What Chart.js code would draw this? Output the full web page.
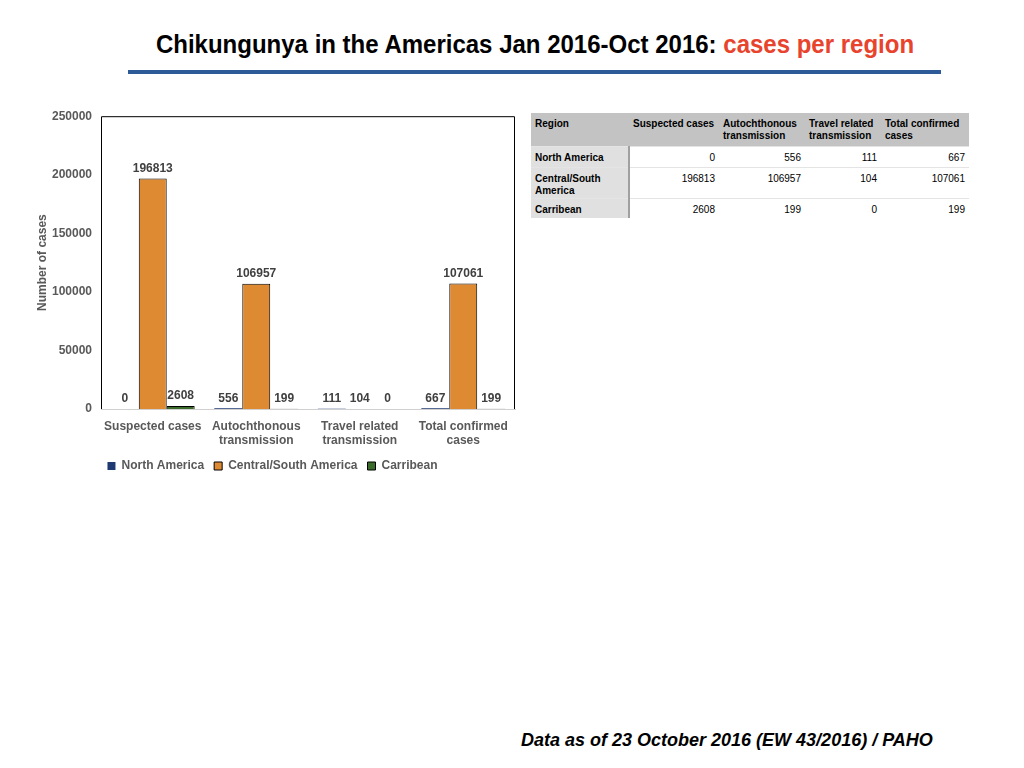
<!DOCTYPE html>
<html>
<head>
<meta charset="utf-8">
<script src="https://cdn.jsdelivr.net/npm/chart.js@4.4.0/dist/chart.umd.min.js"></script>
<style>
  html,body{margin:0;padding:0;background:#fff;}
  body{width:1024px;height:768px;position:relative;overflow:hidden;font-family:"Liberation Sans",Arial,sans-serif;}
  #title{position:absolute;left:0;width:1070px;top:30px;text-align:center;font-family:"Liberation Sans",Arial,sans-serif;font-weight:bold;font-size:24px;color:#000;transform:scaleY(1.08);}
  #title span{color:#e8432d;}
  #rule{position:absolute;left:128px;top:70px;width:813px;height:4px;background:#2d5b97;}
  #wrap{position:absolute;left:30px;top:100px;width:500px;height:382px;}
  #tbl{position:absolute;left:531px;top:113px;border-collapse:collapse;font-size:10px;color:#000;}
  #tbl td,#tbl th{padding:5px 4px 0 4px;vertical-align:top;box-sizing:border-box;}
  #tbl th{background:#c3c3c3;text-align:left;font-weight:bold;line-height:12px;height:33px;}
  #tbl td{border-top:1px solid #e4e4e4;text-align:right;line-height:12px;}
  #tbl td.r{background:#e0e0e0;text-align:left;font-weight:bold;border-right:2px solid #a0a0a0;}
  #footer{position:absolute;left:521px;top:730px;font-weight:bold;font-style:italic;font-size:18px;color:#000;}
</style>
</head>
<body>
<div id="title">Chikungunya in the Americas Jan 2016-Oct 2016: <span>cases per region</span></div>
<div id="rule"></div>
<div id="wrap"><canvas id="c" width="500" height="382"></canvas></div>
<table id="tbl"></table>
<div id="footer">Data as of 23 October 2016 (EW 43/2016) / PAHO</div>
<script>
const categories = [["Suspected cases"], ["Autochthonous","transmission"], ["Travel related","transmission"], ["Total confirmed","cases"]];
const tableHeaders = ["Region","Suspected cases","Autochthonous transmission","Travel related transmission","Total confirmed cases"];
const seriesNames = ["North America","Central/South America","Carribean"];
const northAmerica = [0, 556, 111, 667];
const centralSouthAmerica = [196813, 106957, 104, 107061];
const carribean = [2608, 199, 0, 199];
const yTicks = [0, 50000, 100000, 150000, 200000, 250000];

// Table
const tbl = document.getElementById('tbl');
const colW = [98, 90, 86, 76, 88];
const rowH = [21, 31, 20];
let html = '<tr>' + tableHeaders.map((h,i)=>`<th style="width:${colW[i]}px">${h}</th>`).join('') + '</tr>';
const rows = [northAmerica, centralSouthAmerica, carribean];
rows.forEach((r,ri)=>{
  html += `<tr style="height:${rowH[ri]}px"><td class="r">${seriesNames[ri]}</td>` + r.map(v=>`<td>${v}</td>`).join('') + '</tr>';
});
tbl.innerHTML = html;

const labelPlugin = {
  id: 'valueLabels',
  afterDatasetsDraw(chart) {
    const ctx = chart.ctx;
    ctx.save();
    ctx.font = 'bold 12px "Liberation Sans", Arial, sans-serif';
    ctx.fillStyle = '#404040';
    ctx.textAlign = 'center';
    ctx.textBaseline = 'bottom';
    chart.data.datasets.forEach((ds, di) => {
      const meta = chart.getDatasetMeta(di);
      meta.data.forEach((bar, i) => {
        ctx.fillText(String(ds.data[i]), bar.x, bar.y - 4);
      });
    });
    ctx.restore();
  }
};
const framePlugin = {
  id: 'frame',
  afterDraw(chart) {
    const a = chart.chartArea, ctx = chart.ctx;
    ctx.save();
    ctx.strokeStyle = '#000';
    ctx.lineWidth = 1;
    ctx.beginPath();
    ctx.moveTo(a.left + 0.5, a.bottom);
    ctx.lineTo(a.left + 0.5, a.top + 0.5);
    ctx.lineTo(a.right - 0.5, a.top + 0.5);
    ctx.lineTo(a.right - 0.5, a.bottom);
    ctx.stroke();
    ctx.restore();
  }
};

const tickFont = {family: '"Liberation Sans", Arial, sans-serif', weight: 'bold', size: 12};
new Chart(document.getElementById('c'), {
  type: 'bar',
  data: {
    labels: categories,
    datasets: [
      {label: seriesNames[0], data: northAmerica, backgroundColor: '#1f3a73', borderWidth: 0},
      {label: seriesNames[1], data: centralSouthAmerica, backgroundColor: '#de8a33', borderColor: '#000', borderWidth: 1},
      {label: seriesNames[2], data: carribean, backgroundColor: '#3b6b2b', borderColor: '#000', borderWidth: 1}
    ]
  },
  options: {
    responsive: false,
    animation: false,
    devicePixelRatio: 1,
    layout: {padding: {top: 2, right: 15, left: 0, bottom: 0}},
    datasets: {bar: {categoryPercentage: 0.81, barPercentage: 1.0}},
    plugins: {
      legend: {
        position: 'bottom',
        labels: {boxWidth: 8, boxHeight: 8, color: '#595959', font: tickFont, padding: 10}
      },
      tooltip: {enabled: false}
    },
    scales: {
      x: {
        grid: {display: false, drawTicks: false},
        border: {color: '#d0d0d0', width: 1},
        ticks: {color: '#595959', font: tickFont, padding: 10, maxRotation: 0, autoSkip: false},
        afterFit(s) { s.height = 41; }
      },
      y: {
        min: 0, max: 250000,
        afterBuildTicks(s) { s.ticks = yTicks.map(v => ({value: v})); },
        grid: {display: false, drawTicks: false},
        border: {display: false},
        ticks: {color: '#595959', font: tickFont, padding: 9, callback: v => String(v)},
        title: {display: true, text: 'Number of cases', color: '#595959', font: {family: '"Liberation Sans", Arial, sans-serif', weight: 'bold', size: 12}, padding: {top: 5, bottom: 0}},
        afterFit(s) { s.width = 71; }
      }
    }
  },
  plugins: [labelPlugin, framePlugin]
});
</script>
</body>
</html>
